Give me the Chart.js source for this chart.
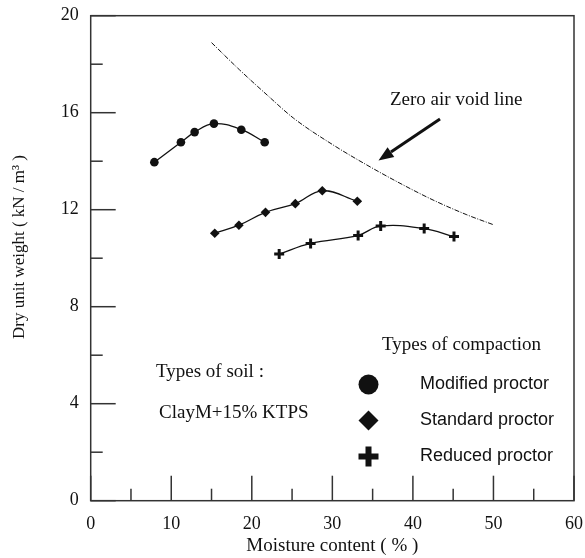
<!DOCTYPE html>
<html><head><meta charset="utf-8">
<script src="https://cdn.jsdelivr.net/npm/chart.js@4.4.1/dist/chart.umd.min.js"></script>
<style>html,body{margin:0;padding:0;background:#fff;}</style>
</head><body>
<canvas id="c" width="585" height="558"></canvas>
<script>
// ---- data ----
const modifiedX = [7.9, 11.2, 12.9, 15.3, 18.7, 21.6];
const modifiedY = [13.96, 14.78, 15.2, 15.55, 15.3, 14.78];
const standardX = [15.4, 18.4, 21.7, 25.4, 28.75, 33.1];
const standardY = [11.03, 11.36, 11.89, 12.25, 12.78, 12.35];
const reducedX = [23.4, 27.3, 33.2, 36.0, 41.4, 45.1];
const reducedY = [10.17, 10.61, 10.94, 11.33, 11.22, 10.89];
const zavX = [15.0, 18.5, 21.9, 25.2, 30.1, 34.3, 38.4, 42.5, 46.7, 50.0];
const zavY = [18.89, 17.76, 16.73, 15.77, 14.67, 13.84, 13.09, 12.40, 11.79, 11.38];
const xTickLabels = [0, 10, 20, 30, 40, 50, 60];
const yTickLabels = [0, 4, 8, 12, 16, 20];
const seriesNames = ['Modified proctor', 'Standard proctor', 'Reduced proctor'];

const pts = (xs, ys) => xs.map((x, i) => ({x: x, y: ys[i]}));
const SERIF = '"Liberation Serif", "Times New Roman", serif';
const SANS = '"Liberation Sans", Arial, sans-serif';
const INK = '#111';
const AXIS = '#333';

const decor = {
  id: 'decor',
  afterDraw(chart) {
    const ctx = chart.ctx, a = chart.chartArea;
    const xs = chart.scales.x, ys = chart.scales.y;
    ctx.save();
    ctx.strokeStyle = AXIS; ctx.lineWidth = 1.5; ctx.lineCap = 'butt';
    ctx.strokeRect(a.left, a.top, a.right - a.left, a.bottom - a.top);
    // inward ticks
    xs.ticks.forEach(t => {
      const px = xs.getPixelForValue(t.value);
      const len = xTickLabels.includes(t.value) ? 25 : 12;
      ctx.beginPath(); ctx.moveTo(px, a.bottom); ctx.lineTo(px, a.bottom - len); ctx.stroke();
    });
    ys.ticks.forEach(t => {
      const py = ys.getPixelForValue(t.value);
      const len = yTickLabels.includes(t.value) ? 25 : 12;
      ctx.beginPath(); ctx.moveTo(a.left, py); ctx.lineTo(a.left + len, py); ctx.stroke();
    });
    // y axis title
    ctx.fillStyle = INK; ctx.textBaseline = 'middle'; ctx.textAlign = 'center';
    ctx.save();
    ctx.translate(20, 247); ctx.rotate(-Math.PI / 2);
    ctx.font = '17px ' + SERIF;
    ctx.fillText('Dry unit weight ( kN / m\u00B3 )', 0, 0);
    ctx.restore();
    // annotation text
    ctx.textAlign = 'left';
    ctx.font = '19px ' + SERIF;
    ctx.fillText('Zero air void line', 390, 100);
    ctx.fillText('Types of compaction', 382, 345);
    ctx.fillText('Types of soil :', 156, 372);
    ctx.fillText('ClayM+15% KTPS', 159, 413);
    // arrow
    ctx.strokeStyle = INK;
    const x1 = 440, y1 = 119, x2 = 378.5, y2 = 160.5;
    const ang = Math.atan2(y2 - y1, x2 - x1);
    const hl = 15, hw = 6;
    const bx = x2 - hl * Math.cos(ang), by = y2 - hl * Math.sin(ang);
    ctx.lineWidth = 3;
    ctx.beginPath(); ctx.moveTo(x1, y1); ctx.lineTo(bx, by); ctx.stroke();
    ctx.beginPath();
    ctx.moveTo(x2, y2);
    ctx.lineTo(bx + hw * Math.sin(ang), by - hw * Math.cos(ang));
    ctx.lineTo(bx - hw * Math.sin(ang), by + hw * Math.cos(ang));
    ctx.closePath(); ctx.fill();
    // legend
    const styles = ['circle', 'rectRot', 'cross'];
    const ly = [384.5, 420.5, 456.5];
    ctx.font = '18px ' + SANS;
    styles.forEach((s, i) => {
      ctx.fillStyle = INK; ctx.strokeStyle = INK;
      if (s === 'cross') {
        ctx.lineWidth = 6;
        Chart.helpers.drawPoint(ctx, {pointStyle: s, radius: 10, borderWidth: 6, rotation: 0}, 368.5, ly[i]);
      } else {
        ctx.lineWidth = 0;
        Chart.helpers.drawPoint(ctx, {pointStyle: s, radius: 10, borderWidth: 0, rotation: 0}, 368.5, ly[i]);
      }
      ctx.fillStyle = INK;
      ctx.fillText(seriesNames[i], 420, ly[i]);
    });
    ctx.restore();
  }
};

new Chart(document.getElementById('c'), {
  type: 'scatter',
  data: {
    datasets: [
      {label: seriesNames[0], data: pts(modifiedX, modifiedY), showLine: true, tension: 0.4,
       borderColor: INK, borderWidth: 1.3, pointStyle: 'circle', pointRadius: 4.3,
       pointBackgroundColor: INK, pointBorderColor: INK, pointBorderWidth: 0},
      {label: seriesNames[1], data: pts(standardX, standardY), showLine: true, tension: 0.4,
       borderColor: INK, borderWidth: 1.3, pointStyle: 'rectRot', pointRadius: 4.8,
       pointBackgroundColor: INK, pointBorderColor: INK, pointBorderWidth: 0},
      {label: seriesNames[2], data: pts(reducedX, reducedY), showLine: true, tension: 0.4,
       borderColor: INK, borderWidth: 1.3, pointStyle: 'cross', pointRadius: 5,
       pointBackgroundColor: INK, pointBorderColor: INK, pointBorderWidth: 3},
      {label: 'Zero air void line', data: pts(zavX, zavY), showLine: true, cubicInterpolationMode: 'monotone',
       borderColor: '#111', borderWidth: 1, borderDash: [5, 1.5, 1, 1.5], pointRadius: 0}
    ]
  },
  options: {
    responsive: false, animation: false, devicePixelRatio: 1,
    layout: {padding: {top: 15.7, right: 11, left: 0, bottom: 0}},
    plugins: {legend: {display: false}, tooltip: {enabled: false}},
    scales: {
      x: {
        type: 'linear', min: 0, max: 60,
        afterFit: s => { s.height = 57.3; s.paddingLeft = 0; s.paddingRight = 0; },
        grid: {display: false, drawTicks: false}, border: {display: false},
        ticks: {stepSize: 5, autoSkip: false, maxRotation: 0, padding: 13, color: INK,
                font: {family: SERIF, size: 18},
                callback: v => xTickLabels.includes(v) ? String(v) : ''},
        title: {display: true, text: 'Moisture content ( % )', color: INK,
                font: {family: SERIF, size: 19}, padding: {top: 0, bottom: 1}}
      },
      y: {
        type: 'linear', min: 0, max: 20,
        afterFit: s => { s.width = 90.7; s.paddingTop = 0; s.paddingBottom = 0; },
        grid: {display: false, drawTicks: false}, border: {display: false},
        ticks: {stepSize: 2, autoSkip: false, padding: 12, color: INK,
                font: {family: SERIF, size: 18},
                callback: v => yTickLabels.includes(v) ? String(v) : ''},
        title: {display: false}
      }
    }
  },
  plugins: [decor]
});
</script>
</body></html>
